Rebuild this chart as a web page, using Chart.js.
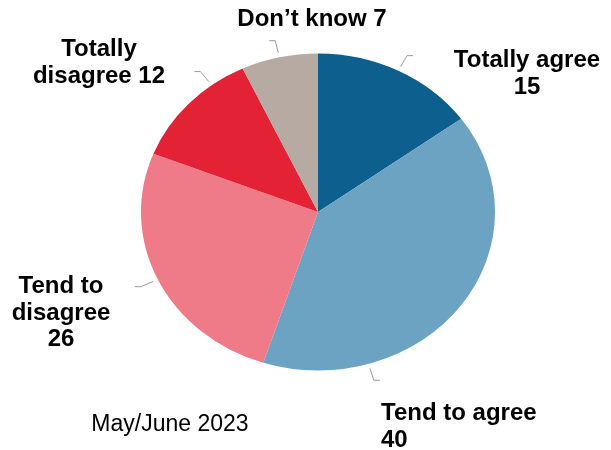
<!DOCTYPE html>
<html>
<head>
<meta charset="utf-8">
<script src="https://cdn.jsdelivr.net/npm/chart.js@4.4.0/dist/chart.umd.min.js"></script>
<style>
  html, body { margin: 0; padding: 0; background: #fff; }
  #pie { display: block; }
</style>
</head>
<body>
<canvas id="pie" width="611" height="450"></canvas>
<script>
// survey answers, clockwise from 12 o'clock
const categories = ['Totally agree', 'Tend to agree', 'Tend to disagree', 'Totally disagree', 'Don\u2019t know'];
const shares = [15, 40, 26, 12, 7];
const sliceColors = ['#0d5f8e', '#6ca2c2', '#ef7a88', '#e32236', '#b6aaa3'];
const caption = 'May/June 2023';

// text lines per slice (value appended by the label plugin)
const labelLines = [
    ['Totally agree', '{v}'],
    ['Tend to agree', '{v}'],
    ['Tend to', 'disagree', '{v}'],
    ['Totally', 'disagree {v}'],
    ['Don\u2019t know {v}']
];
// where each label block sits, and where along its slice the leader points
const labelLayout = [
    { x: 527, y: 67, align: 'center', t: 0.5 },
    { x: 381, y: 420, align: 'left', t: 0.76 },
    { x: 61, y: 293, align: 'center', t: 0.5 },
    { x: 99, y: 56, align: 'center', t: 0.73 },
    { x: 312, y: 26, align: 'center', t: 0.5 }
];

const SQUASH = 0.8955;   // pie is drawn as a flattened ellipse
const LINE_H = 26.5;

const ellipsePie = {
    id: 'ellipsePie',
    beforeDatasetsDraw(chart) {
        const arc = chart.getDatasetMeta(0).data[0];
        const ctx = chart.ctx;
        ctx.save();
        ctx.translate(arc.x, arc.y);
        ctx.scale(1, SQUASH);
        ctx.translate(-arc.x, -arc.y);
    },
    afterDatasetsDraw(chart) {
        chart.ctx.restore();
    }
};

const sliceLabels = {
    id: 'sliceLabels',
    afterDraw(chart) {
        const ctx = chart.ctx;
        const arcs = chart.getDatasetMeta(0).data;
        ctx.save();

        // leader lines
        ctx.strokeStyle = '#9a9a9a';
        ctx.lineWidth = 1;
        arcs.forEach((arc, i) => {
            const t = labelLayout[i].t;
            const a = arc.startAngle + (arc.endAngle - arc.startAngle) * t;
            const r = arc.outerRadius;
            const pt = (rr) => [arc.x + Math.cos(a) * rr, arc.y + Math.sin(a) * rr * SQUASH];
            const p0 = pt(r + 5);
            const p1 = pt(r + 19);
            const dir = Math.cos(a) >= 0 ? 1 : -1;
            ctx.beginPath();
            ctx.moveTo(p0[0], p0[1]);
            ctx.lineTo(p1[0], p1[1]);
            ctx.lineTo(p1[0] + dir * 6, p1[1]);
            ctx.stroke();
        });

        // label text
        ctx.fillStyle = '#000';
        ctx.font = 'bold 24px "Liberation Sans", Arial, sans-serif';
        ctx.textBaseline = 'alphabetic';
        labelLines.forEach((lines, i) => {
            const pos = labelLayout[i];
            ctx.textAlign = pos.align;
            lines.forEach((line, k) => {
                ctx.fillText(line.replace('{v}', shares[i]), pos.x, pos.y + k * LINE_H);
            });
        });

        ctx.font = '23px "Liberation Sans", Arial, sans-serif';
        ctx.textAlign = 'center';
        ctx.fillText(caption, 170, 431);
        ctx.restore();
    }
};

new Chart(document.getElementById('pie'), {
    type: 'pie',
    data: {
        labels: categories,
        datasets: [{
            data: shares,
            backgroundColor: sliceColors,
            borderWidth: 0,
            radius: 177
        }]
    },
    options: {
        responsive: false,
        animation: false,
        layout: { padding: { left: 141, right: 116, top: 35, bottom: 61 } },
        plugins: {
            legend: { display: false },
            tooltip: { enabled: false }
        }
    },
    plugins: [ellipsePie, sliceLabels]
});
</script>
</body>
</html>
